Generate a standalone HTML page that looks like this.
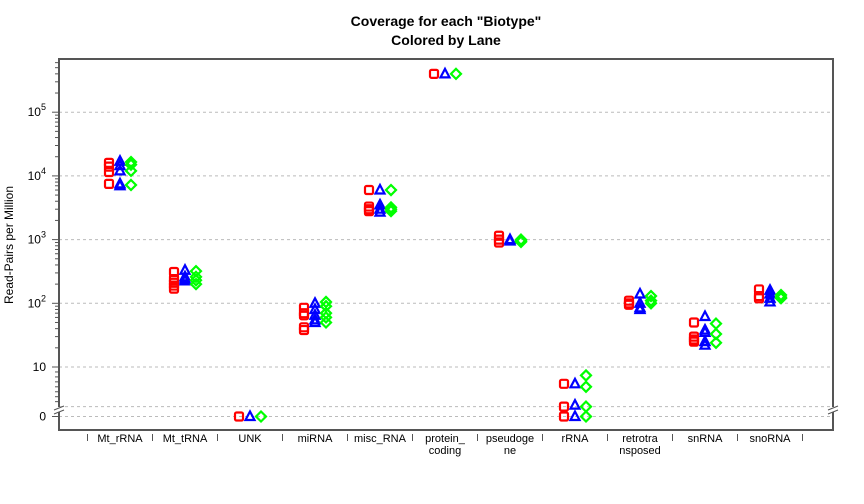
<!DOCTYPE html>
<html><head><meta charset="utf-8"><style>
body{margin:0;background:#fff;}
svg{display:block;font-family:"Liberation Sans",sans-serif;}
</style></head><body>
<svg id="chart" width="864" height="504" viewBox="0 0 864 504">
<rect x="0" y="0" width="864" height="504" fill="#fff"/>
<text x="446" y="26" text-anchor="middle" font-size="14" font-weight="bold">Coverage for each "Biotype"</text>
<text x="446" y="45" text-anchor="middle" font-size="14" font-weight="bold">Colored by Lane</text>
<text transform="translate(13,245) rotate(-90)" text-anchor="middle" font-size="12">Read-Pairs per Million</text>
<g id="grid"></g><g id="axes"></g><g id="marks"></g>
</svg>
<script>
const categories=["Mt_rRNA","Mt_tRNA","UNK","miRNA","misc_RNA","protein_\ncoding","pseudoge\nne","rRNA","retrotra\nnsposed","snRNA","snoRNA"];
const lane1=[[16000,14000,11500,7500],[310,240,210,190,170],[0],[85,70,65,42,38],[6000,3300,3000,2800],[400000],[1150,1000,900],[6.6,2,0],[110,100,95],[50,30,27,25],[165,130,120]];
const lane2=[[17000,14500,12000,7500,7000],[330,260,240,225],[0],[100,80,65,55,50],[6000,3500,3000,2700],[400000],[1000,950],[6.6,2.3,0],[140,100,85,80],[62,38,35,25,22],[160,140,120,105]];
const lane3=[[16500,15000,12000,7200],[320,260,230,200],[0],[105,90,70,60,50],[6000,3200,3000,2800],[400000],[1000,950,920],[8.3,6,2,0],[130,110,100],[48,33,24],[135,125,120]];
const yTicks=[0,10,100,1000,10000,100000];
const yTickLabels=["0","10","10^2","10^3","10^4","10^5"];
const NS="http://www.w3.org/2000/svg";
const L=59,R=833,T=59,B=430;
function y(v){return v>=10?367-63.7*Math.log10(v/10):416.5-4.95*v;}
function x(i){return 120+i*65;}
function mk(tag,attrs,parent){const e=document.createElementNS(NS,tag);for(const k in attrs)e.setAttribute(k,attrs[k]);parent.appendChild(e);return e;}
const grid=document.getElementById('grid'),axes=document.getElementById('axes'),marks=document.getElementById('marks');
[0,2,10,100,1000,10000,100000].forEach(v=>{
const g=mk('line',{x1:L,x2:R,y1:y(v),y2:y(v),stroke:'#bbb','stroke-dasharray':'3,3'},grid);


});
const box=mk('rect',{x:L,y:T,width:R-L,height:B-T,fill:'none',stroke:'#555','stroke-width':2},axes);


const minorVals=[];
for(let m=3;m<=9;m++)minorVals.push(m);
for(let d=1;d<=6;d++){for(let m=2;m<=9;m++)minorVals.push(m*Math.pow(10,d));}
minorVals.forEach(v=>{const yy=y(v);if(yy<T)return;
const t=mk('line',{x1:L-4,x2:L,y1:yy,y2:yy,stroke:'#555'},axes);

});
yTicks.forEach((v,i)=>{
const yy=y(v);
const t=mk('line',{x1:L-7,x2:L,y1:yy,y2:yy,stroke:'#555'},axes);


const lab=yTickLabels[i];
const tx=mk('text',{x:L-13,y:yy+4,'text-anchor':'end','font-size':12},axes);


if(lab.startsWith('10^')){tx.textContent='10';const s=mk('tspan',{dy:-6,'font-size':9},tx);s.textContent=lab.slice(3);}
else tx.textContent=lab;
});
[L,R].forEach(xx=>{
const bg=mk('rect',{x:xx-3,y:407,width:6,height:5,fill:'#fff'},axes);


[408,412].forEach(yy=>{const b=mk('line',{x1:xx-5,x2:xx+5,y1:yy+2,y2:yy-2,stroke:'#555'},axes);

});
});
for(let i=0;i<=categories.length;i++){
const xx=x(i)-32.5;
const t=mk('line',{x1:xx,x2:xx,y1:434,y2:441,stroke:'#555'},axes);


}
categories.forEach((c,i)=>{
c.split('\n').forEach((ln,j)=>{
const tx=mk('text',{x:x(i),y:442+j*12,'text-anchor':'middle','font-size':11},axes);


tx.textContent=ln;
});
});
function square(cx,cy){return mk('rect',{x:cx-4,y:cy-4,width:8,height:8,rx:1.5,fill:'none',stroke:'#f00','stroke-width':2.2},marks);}
function tri(cx,cy){return mk('polygon',{points:`${cx},${cy-5} ${cx+4.5},${cy+3.5} ${cx-4.5},${cy+3.5}`,fill:'none',stroke:'#00f','stroke-width':2.2},marks);}
function dia(cx,cy){return mk('polygon',{points:`${cx},${cy-5} ${cx+5},${cy} ${cx},${cy+5} ${cx-5},${cy}`,fill:'none',stroke:'#0f0','stroke-width':2.2},marks);}
categories.forEach((c,i)=>{
lane1[i].forEach(v=>{const e=square(x(i)-11,y(v));});
lane2[i].forEach(v=>{const e=tri(x(i),y(v));});
lane3[i].forEach(v=>{const e=dia(x(i)+11,y(v));});
});
</script>
</body></html>
